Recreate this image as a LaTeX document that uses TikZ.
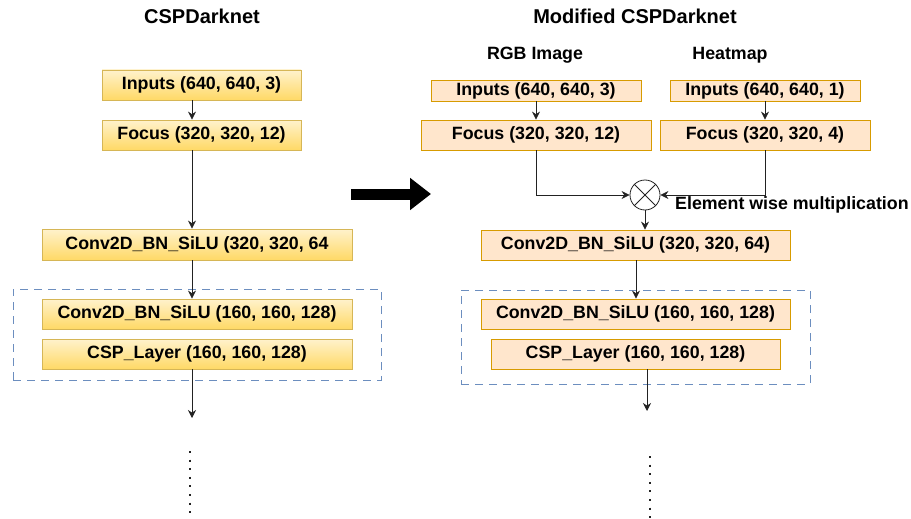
\documentclass[tikz,border=0pt]{standalone}
\usepackage{fontspec}
\setmainfont{Liberation Sans}
\usetikzlibrary{arrows.meta}
\definecolor{ylwtop}{HTML}{FFF2CC}
\definecolor{ylwbot}{HTML}{FFD966}
\definecolor{ylwbrd}{HTML}{D6B656}
\definecolor{orfill}{HTML}{FFE6CC}
\definecolor{orbrd}{HTML}{D79B00}
\definecolor{grpbrd}{HTML}{6C8EBF}
\definecolor{lnc}{HTML}{222222}
\tikzset{
  txt/.style={font=\bfseries\fontsize{17.8}{20}\selectfont, inner sep=0pt},
  ttl/.style={font=\bfseries\fontsize{20}{22}\selectfont, inner sep=0pt},
  ybox/.style={txt, draw=ylwbrd, top color=ylwtop, bottom color=ylwbot, line width=0.8pt, rectangle},
  obox/.style={txt, draw=orbrd, fill=orfill, line width=0.8pt, rectangle},
  grp/.style={draw=grpbrd, dash pattern=on 8pt off 6pt, line width=0.8pt, rectangle, inner sep=0pt},
  arr/.style={draw=lnc, line width=0.8pt, -{Stealth[length=8pt,width=8pt]}},
  dots/.style={draw=lnc, line width=2pt, dash pattern=on 2pt off 6.6pt},
}
\begin{document}
\begin{tikzpicture}[x=1pt,y=-1pt]
\useasboundingbox (0,0) rectangle (911,519);
% titles
\node[ttl] (tL) at (202,16) {CSPDarknet};
\node[ttl] (tR) at (635,16) {Modified CSPDarknet};
\node[txt] (tRGB) at (535,55) {RGB Image};
\node[txt] (tHM) at (730,55) {Heatmap};
% group boxes
\node[grp, minimum width=368pt, minimum height=91pt] (gL) at (197,334.5) {};
\node[grp, minimum width=349pt, minimum height=94pt] (gR) at (635.5,337) {};
% left column
\coordinate (axL) at (192,0);
\node[ybox, minimum width=199pt, minimum height=30pt] (inL) at (201.5,85) {Inputs (640, 640, 3)};
\node[ybox, minimum width=199pt, minimum height=30pt] (foL) at (201.5,135) {Focus (320, 320, 12)};
\node[ybox, minimum width=310pt, minimum height=31pt] (cvL) at (197,244.5) {Conv2D\_BN\_SiLU (320, 320, 64};
\node[ybox, minimum width=310pt, minimum height=30pt] (c2L) at (197,314) {Conv2D\_BN\_SiLU (160, 160, 128)};
\node[ybox, minimum width=310pt, minimum height=30pt] (csL) at (197,354) {CSP\_Layer (160, 160, 128)};
\coordinate (endL) at (192,418);
\coordinate (d1L) at (190,451);
\coordinate (d2L) at (190,521);
\draw[arr] (inL.south -| axL) -- (foL.north -| axL);
\draw[arr] (foL.south -| axL) -- (cvL.north -| axL);
\draw[arr] (cvL.south -| axL) -- (c2L.north -| axL);
\draw[arr] (csL.south -| axL) -- (endL);
\draw[dots] (d1L) -- (d2L);
% big arrow
\coordinate (bA) at (351,194);
\coordinate (bB) at (431,194);
\draw[line width=11pt, -{Triangle[length=21pt,width=31pt]}] (bA) -- (bB);
% right column
\node[obox, minimum width=210pt, minimum height=21pt] (inR) at (536,90.5) {Inputs (640, 640, 3)};
\node[obox, minimum width=230pt, minimum height=30pt] (foR) at (536,135) {Focus (320, 320, 12)};
\node[obox, minimum width=190pt, minimum height=21pt] (inH) at (765,90.5) {Inputs (640, 640, 1)};
\node[obox, minimum width=210pt, minimum height=30pt] (foH) at (765,135) {Focus (320, 320, 4)};
\node[draw=lnc, line width=0.8pt, circle, minimum size=30pt, inner sep=0pt] (mul) at (645,195) {};
\draw[lnc, line width=0.8pt] (mul.45) -- (mul.225) (mul.135) -- (mul.315);
\node[txt, anchor=west] (lblM) at (675,205) {Element wise multiplication};
\node[obox, minimum width=309pt, minimum height=30pt] (cvR) at (635.5,245) {Conv2D\_BN\_SiLU (320, 320, 64)};
\node[obox, minimum width=309pt, minimum height=30pt] (c2R) at (635.5,314) {Conv2D\_BN\_SiLU (160, 160, 128)};
\node[obox, minimum width=289pt, minimum height=30pt] (csR) at (635.5,354) {CSP\_Layer (160, 160, 128)};
\coordinate (axR1) at (636,0);
\coordinate (axR2) at (647,0);
\coordinate (endR) at (647,411);
\coordinate (d1R) at (650,456);
\coordinate (d2R) at (650,521);
\draw[arr] (inR) -- (foR);
\draw[arr] (inH) -- (foH);
\draw[arr] (foR.south) |- (mul.west);
\draw[arr] (foH.south) |- (mul.east);
\draw[arr] (mul.south) -- (cvR.north -| mul.south);
\draw[arr] (cvR.south -| axR1) -- (c2R.north -| axR1);
\draw[arr] (csR.south -| axR2) -- (endR);
\draw[dots] (d1R) -- (d2R);
\end{tikzpicture}
\end{document}
